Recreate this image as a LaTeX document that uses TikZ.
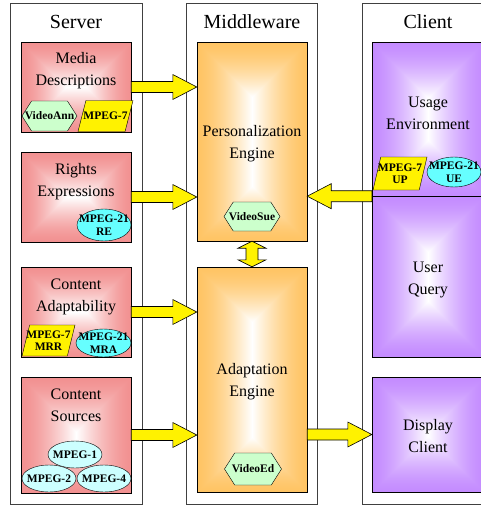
\documentclass[tikz,border=0pt]{standalone}
\usepackage{fontspec}
\setmainfont{Liberation Serif}
\usetikzlibrary{shapes,arrows,positioning,calc}
\usepackage{xcolor}

\definecolor{hexgreen}{RGB}{204,255,204}
\definecolor{ellcyan}{RGB}{102,255,255}
\definecolor{palecyan}{RGB}{204,255,255}

% fill from the centre outwards: #1 name, #2 #3 side ratios, then r, 1-r, g, 1-g, b, 1-b of the edge colour
\newcommand{\glowshade}[9]{%
  \pgfdeclarefunctionalshading{#1}{\pgfpoint{-50bp}{-50bp}}{\pgfpoint{50bp}{50bp}}{}{%
    abs 25 exch sub #3 mul exch abs 25 exch sub #2 mul
    2 copy gt {exch} if pop 25 div
    dup 0 lt {pop 0} if dup 1 gt {pop 1} if
    dup sqrt mul
    dup #5 mul #4 add exch dup #7 mul #6 add exch #9 mul #8 add}}
\glowshade{srvflat}{1.2222}{1}{0.949}{0.051}{0.569}{0.431}{0.569}{0.431}
\glowshade{srvtall}{1}{1.0545}{0.949}{0.051}{0.569}{0.431}{0.569}{0.431}
\glowshade{perstall}{1}{1.8091}{1}{0}{0.769}{0.231}{0.392}{0.608}
\glowshade{adengtall}{1}{2.0455}{1}{0}{0.769}{0.231}{0.392}{0.608}
\glowshade{usagetall}{1}{1.375}{0.769}{0.231}{0.549}{0.451}{1}{0}
\glowshade{querytall}{1}{1.4375}{0.769}{0.231}{0.549}{0.451}{1}{0}
\glowshade{disptall}{1}{1.0268}{0.769}{0.231}{0.549}{0.451}{1}{0}

\begin{document}
\begin{tikzpicture}[x=1pt, y=-1pt,
    colbox/.style={draw=black!75, line width=0.8pt, fill=white, minimum width=132pt, minimum height=501pt},
    heading/.style={font=\fontsize{20}{22}\selectfont},
    lbl/.style={font=\fontsize{16}{22}\selectfont, align=center},
    srvbox/.style={draw, shading=srvflat, minimum width=110pt, minimum height=90pt},
    midbox/.style={draw, minimum width=110pt},
    clibox/.style={draw, minimum width=112pt},
    tag/.style={font=\fontsize{11.5}{12.5}\selectfont\bfseries, align=center, inner sep=0pt},
    hexa/.style={draw, fill=hexgreen, signal, signal to=west and east, signal pointer angle=115, minimum width=55pt, minimum height=30pt, inner sep=0pt},
    para/.style={draw, fill=yellow, trapezium, trapezium left angle=74, trapezium right angle=106, trapezium stretches=true, minimum width=54pt, minimum height=31pt, inner sep=1pt},
    ell/.style={draw, ellipse, fill=ellcyan, minimum width=54pt, minimum height=30pt, inner sep=0pt},
    fatarrow/.style={draw=black, fill=yellow, line width=0.6pt, to path={
      -- ($(\tikztostart)!5.5pt!90:(\tikztotarget)$)
      -- ($(\tikztotarget)!24pt!(\tikztostart)!5.5pt!-90:(\tikztostart)$)
      -- ($(\tikztotarget)!24pt!(\tikztostart)!12.5pt!-90:(\tikztostart)$)
      -- (\tikztotarget)
      -- ($(\tikztotarget)!24pt!(\tikztostart)!12.5pt!90:(\tikztostart)$)
      -- ($(\tikztotarget)!24pt!(\tikztostart)!5.5pt!90:(\tikztostart)$)
      -- ($(\tikztostart)!5.5pt!-90:(\tikztotarget)$)
      -- cycle}},
    dblarrow/.style={draw=black, fill=yellow, line width=0.6pt, to path={
      -- ($(\tikztostart)!7pt!(\tikztotarget)!14pt!90:(\tikztotarget)$)
      -- ($(\tikztostart)!7pt!(\tikztotarget)!6pt!90:(\tikztotarget)$)
      -- ($(\tikztotarget)!7pt!(\tikztostart)!6pt!-90:(\tikztostart)$)
      -- ($(\tikztotarget)!7pt!(\tikztostart)!14pt!-90:(\tikztostart)$)
      -- (\tikztotarget)
      -- ($(\tikztotarget)!7pt!(\tikztostart)!14pt!90:(\tikztostart)$)
      -- ($(\tikztotarget)!7pt!(\tikztostart)!6pt!90:(\tikztostart)$)
      -- ($(\tikztostart)!7pt!(\tikztotarget)!6pt!-90:(\tikztotarget)$)
      -- ($(\tikztostart)!7pt!(\tikztotarget)!14pt!-90:(\tikztotarget)$)
      -- cycle}}]
    \useasboundingbox (0,0) rectangle (481,506);
    \clip (0,0) rectangle (481,506);

    % Columns
    \node[colbox] (server) at (76,253.5) {};
    \node[colbox, minimum width=131pt] (middle) at (251.5,253.5) {};
    \node[colbox] (client) at (428,253.5) {};
    \node[heading] (servertitle) at (76,22) {Server};
    \node[heading] (middletitle) at (252,22) {Middleware};
    \node[heading] (clienttitle) at (428,22) {Client};

    % Server
    \node[srvbox] (media) at (76,87) {};
    \node[lbl] (medialbl) at ([yshift=-29pt]media.north) {Media\\Descriptions};
    \node[hexa, label={[tag]center:VideoAnn}] (va) at (49.5,116) {};
    \node[para, minimum width=55pt, label={[tag]center:MPEG-7}] (mp7) at (105.5,116) {\phantom{.}};

    \node[srvbox] (rights) at (76,197) {};
    \node[lbl] (rightslbl) at ([yshift=-29.5pt]rights.north) {Rights\\Expressions};
    \node[ell, minimum height=32pt, label={[tag]center:MPEG-21\\RE}] (re) at (104,225) {};

    \node[srvbox] (adapt) at (76,312) {};
    \node[lbl] (adaptlbl) at ([yshift=-30pt]adapt.north) {Content\\Adaptability};
    \node[para, minimum width=53pt, label={[tag]center:MPEG-7\\MRR}] (mrr) at (48.5,340.5) {\phantom{.}};
    \node[ell, minimum width=55pt, minimum height=28pt, label={[tag]center:MPEG-21\\MRA}] (mra) at (103.5,343) {};

    \node[srvbox, shading=srvtall, minimum height=116pt] (sources) at (76,435) {};
    \node[lbl] (sourceslbl) at ([yshift=-28.5pt]sources.north) {Content\\Sources};
    \node[ell, fill=palecyan, minimum height=27pt, label={[tag]center:MPEG-1}] (mp1) at (75,454.5) {};
    \node[ell, fill=palecyan, minimum height=27pt, label={[tag]center:MPEG-2}] (mp2) at (49,478.5) {};
    \node[ell, fill=palecyan, minimum height=27pt, label={[tag]center:MPEG-4}] (mp4) at (104,478.5) {};

    % Middleware
    \node[midbox, shading=perstall, minimum height=199pt] (pers) at (252,141.5) {};
    \node[lbl] (perslbl) at ([yshift=-2pt]pers.center) {Personalization\\Engine};
    \node[hexa, minimum width=56pt, minimum height=29pt, label={[tag]center:VideoSue}] (sue) at (252,216.5) {};

    \node[midbox, shading=adengtall, minimum height=225pt] (adeng) at (252,379.5) {};
    \node[lbl] (adenglbl) at ([yshift=-2pt]adeng.center) {Adaptation\\Engine};
    \node[hexa, minimum width=57pt, minimum height=32pt, label={[tag]center:VideoEd}] (ved) at (253,469) {};

    % Client
    \node[clibox, shading=usagetall, minimum height=154pt] (usage) at (428,119) {};
    \node[lbl] (usagelbl) at ([yshift=-72pt]usage.north) {Usage\\Environment};
    \node[para, minimum height=33pt, label={[tag]center:MPEG-7\\UP}] (up) at (400,173.5) {\phantom{.}};
    \node[ell, label={[tag]center:MPEG-21\\UE}] (ue) at (454,172) {};

    \node[clibox, shading=querytall, minimum height=161pt] (query) at (428,276.5) {};
    \node[lbl] (querylbl) at ([yshift=-3pt]query.center) {User\\Query};

    \node[clibox, shading=disptall, minimum height=115pt] (display) at (428,434.5) {};
    \node[lbl] (displaylbl) at ([yshift=-1.5pt]display.center) {Display\\Client};

    % Arrows
    \draw[fatarrow] (media.east) to (media.east -| pers.west);
    \draw[fatarrow] (rights.east) to (rights.east -| pers.west);
    \draw[fatarrow] (adapt.east) to (adapt.east -| adeng.west);
    \draw[fatarrow] (sources.east) to (sources.east -| adeng.west);
    \draw[fatarrow] (usage.south west) to (usage.south west -| pers.east);
    \draw[fatarrow] (adeng.east |- display.west) to (display.west);
    \draw[dblarrow] (pers.south) to (adeng.north);
\end{tikzpicture}
\end{document}
